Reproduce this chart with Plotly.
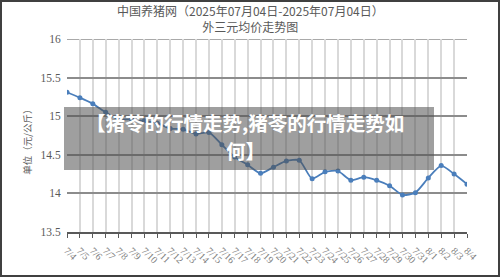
import plotly.graph_objects as go

dates = ["7/4", "7/5", "7/6", "7/7", "7/8", "7/9", "7/10", "7/11", "7/12", "7/13",
         "7/14", "7/15", "7/16", "7/17", "7/18", "7/19", "7/20", "7/21", "7/22", "7/23",
         "7/24", "7/25", "7/26", "7/27", "7/28", "7/29", "7/30", "7/31", "8/1", "8/2",
         "8/3", "8/4"]
prices = [15.31, 15.24, 15.16, 15.05, 14.96, 14.96, 14.94, 14.91, 14.84, 14.83,
          14.77, 14.79, 14.63, 14.47, 14.37, 14.26, 14.34, 14.42, 14.43, 14.19,
          14.28, 14.29, 14.17, 14.21, 14.17, 14.10, 13.98, 14.01, 14.20, 14.36,
          14.25, 14.12]
y_ticks = [13.5, 14, 14.5, 15, 15.5, 16]
y_tick_text = ["13.5", "14", "14.5", "15", "15.5", "16"]

title_line1 = "中国养猪网（2025年07月04日-2025年07月04日）"
title_line2 = "外三元均价走势图"
y_title = "单位（元/公斤）"
banner_line1 = "【猪苓的行情走势,猪苓的行情走势如"
banner_line2 = "何】"

L, R, T, B = 67, 33, 39, 45
W, H = 500, 277
PW, PH = W - L - R, H - T - B

def px(x):
    return (x - L) / PW

def py(y):
    return (H - B - y) / PH

fig = go.Figure()
fig.add_trace(go.Scatter(
    x=dates, y=prices, mode="lines+markers",
    line=dict(color="#4A7EBB", width=1.8, shape="spline", smoothing=0.6),
    marker=dict(symbol="circle", size=5, color="#4A7EBB"),
    hoverinfo="skip", showlegend=False,
))

fig.update_layout(
    width=W, height=H,
    margin=dict(l=L, r=R, t=T, b=B, pad=0),
    paper_bgcolor="white", plot_bgcolor="white",
    showlegend=False,
    xaxis=dict(
        type="category", range=[0, len(dates) - 1],
        showgrid=True, gridcolor="#d9d9d9", gridwidth=1.5,
        showline=True, linecolor="#595959", linewidth=2,
        ticks="outside", ticklen=4, tickcolor="#595959", tickwidth=1,
        tickangle=45, ticklabelstandoff=3,
        tickfont=dict(family="Liberation Serif", size=10, color="#808080"),
        zeroline=False, fixedrange=True,
    ),
    yaxis=dict(
        range=[13.5, 16], tickvals=y_ticks, ticktext=y_tick_text,
        showgrid=True, gridcolor="#8c8c8c", gridwidth=1.5,
        showline=False, zeroline=False,
        ticks="outside", ticklen=3, tickcolor="rgba(0,0,0,0)",
        tickfont=dict(family="Liberation Serif", size=11.5, color="#595959"),
        fixedrange=True,
    ),
)

annotations = [
    dict(text=title_line1 + "<br>" + title_line2, x=px(250), y=py(18.7),
         xref="paper", yref="paper",
         showarrow=False, xanchor="center", yanchor="middle", align="center",
         font=dict(family="Noto Sans CJK SC", size=12, color="#595959")),
    dict(text=y_title, x=px(26.7), y=py(140), xref="paper", yref="paper",
         showarrow=False, xanchor="center", yanchor="middle", textangle=-90,
         font=dict(family="Noto Sans CJK SC", size=9.5, color="#595959")),
    dict(text=banner_line1, x=px(245), y=py(122), xref="paper", yref="paper",
         showarrow=False, xanchor="center", yanchor="middle", borderpad=0,
         font=dict(family="Noto Sans CJK SC", size=19.5, color="white", weight="bold")),
    dict(text=banner_line2, x=px(245), y=py(150), xref="paper", yref="paper",
         showarrow=False, xanchor="center", yanchor="middle", borderpad=0,
         font=dict(family="Noto Sans CJK SC", size=19.5, color="white", weight="bold")),
]
fig.update_layout(annotations=annotations)

# top border gridline at 16
fig.add_shape(type="line", xref="paper", yref="y", x0=0, x1=1, y0=16, y1=16,
              line=dict(color="#8c8c8c", width=1.5), layer="below")
fig.add_shape(type="rect", xref="paper", yref="paper",
              x0=px(64), x1=px(434), y0=py(170), y1=py(107),
              fillcolor="rgba(80,80,80,0.55)", line=dict(width=0), layer="above")
fig.add_shape(type="rect", xref="paper", yref="paper",
              x0=px(1), x1=px(499), y0=py(276), y1=py(1),
              fillcolor="rgba(0,0,0,0)", line=dict(width=2, color="#404040"), layer="above")

fig.write_html("out.html")
